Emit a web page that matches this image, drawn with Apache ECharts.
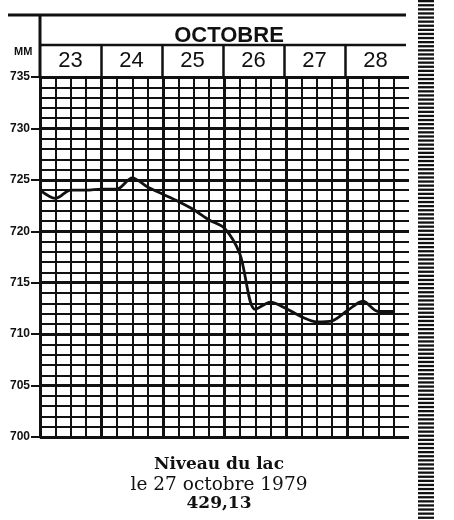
<!DOCTYPE html>
<html>
<head>
<meta charset="utf-8">
<script src="https://cdn.jsdelivr.net/npm/echarts@6/dist/echarts.min.js"></script>
<style>
  html, body { margin: 0; padding: 0; background: #fff; }
</style>
</head>
<body>
<div id="chart" style="width: 454px; height: 520px"></div>
<script>
// niveau du lac, relevé toutes les 6 heures (23 -> 28 octobre)
const days = ['23', '24', '25', '26', '27', '28']
const steps = [0, 1, 2, 3, 4, 5, 6, 7, 8, 9, 10, 11, 12, 13, 14, 15, 16, 17, 18, 19, 20, 21, 22, 23]
const levels = [724, 723.2, 724, 724, 724.1, 724.1, 725.2, 724.3, 723.6, 722.9, 722.1, 721.1,
  720.3, 717.8, 712.4, 713.1, 712.5, 711.7, 711.2, 711.3, 712.3, 713.2, 712.2, 712.2]

const ink = '#111'
const chart = echarts.init(document.getElementById('chart'))

// bande hachurée à droite (bord de colonne du journal)
const stripes = []
for (let y = 0; y < 520; y += 4.1) {
  stripes.push({ type: 'rect', shape: { x: 418, y: y, width: 16, height: 2.3 }, style: { fill: ink } })
}

const option = {
  animation: false,
  title: [
    { text: 'OCTOBRE', left: 224, top: 20, textAlign: 'center',
      textStyle: { fontFamily: 'Liberation Sans', fontWeight: 'bold', fontSize: 22, color: ink } },
    { text: 'MM', left: 9, top: 41,
      textStyle: { fontFamily: 'Liberation Sans', fontWeight: 'bold', fontSize: 11, color: ink } },
    { text: 'Niveau du lac', left: 214, top: 451, textAlign: 'center',
      textStyle: { fontFamily: 'DejaVu Serif', fontWeight: 'bold', fontSize: 17, color: ink } },
    { text: 'le 27 octobre 1979', left: 214, top: 471, textAlign: 'center',
      textStyle: { fontFamily: 'DejaVu Serif', fontWeight: 'normal', fontSize: 18.5, color: ink } },
    { text: '429,13', left: 214, top: 490, textAlign: 'center',
      textStyle: { fontFamily: 'DejaVu Serif', fontWeight: 'bold', fontSize: 17, color: ink } }
  ],
  graphic: [
    { type: 'line', shape: { x1: 8, y1: 15, x2: 406, y2: 15 }, style: { stroke: ink, lineWidth: 3 } },
    { type: 'line', shape: { x1: 40, y1: 45, x2: 406, y2: 45 }, style: { stroke: ink, lineWidth: 2.5 } },
    { type: 'line', shape: { x1: 40, y1: 15, x2: 40, y2: 78 }, style: { stroke: ink, lineWidth: 3 } },
    { type: 'group', children: stripes }
  ],
  grid: [
    { left: 40, top: 77, width: 369, height: 360 },
    { left: 40, top: 45, width: 366, height: 32 }
  ],
  xAxis: [
    {
      type: 'value', gridIndex: 0, min: 0, max: 24, interval: 1,
      axisLine: { show: false }, axisTick: { show: false }, axisLabel: { show: false },
      splitLine: { show: true, showMaxLine: false, lineStyle: { color: ink, width: 2 } }
    },
    {
      type: 'value', gridIndex: 0, min: 0, max: 24, interval: 4,
      axisLine: { show: false }, axisTick: { show: false }, axisLabel: { show: false },
      splitLine: { show: true, showMinLine: false, showMaxLine: false, lineStyle: { color: ink, width: 3 } }
    },
    {
      type: 'category', gridIndex: 1, data: days, boundaryGap: true,
      axisLine: { show: false }, axisTick: { show: false },
      axisLabel: { inside: true, margin: 5, fontFamily: 'Liberation Sans', fontSize: 22, color: ink },
      splitLine: { show: true, showMinLine: false, showMaxLine: false, lineStyle: { color: ink, width: 2.5 } }
    }
  ],
  yAxis: [
    {
      type: 'value', gridIndex: 0, min: 700, max: 735, interval: 5,
      axisLine: { show: true, lineStyle: { color: ink, width: 3 } },
      axisTick: { show: true, length: 9, lineStyle: { color: ink, width: 2 } },
      axisLabel: { margin: 10, fontFamily: 'Liberation Sans', fontWeight: 'bold', fontSize: 12, color: ink,
        padding: [0, 0, 3, 0] },
      splitLine: { show: true, lineStyle: { color: ink, width: 3 } },
      minorTick: { show: false, splitNumber: 5 },
      minorSplitLine: { show: true, lineStyle: { color: ink, width: 2 } }
    },
    {
      type: 'value', gridIndex: 1, show: false
    }
  ],
  series: [
    {
      type: 'line',
      xAxisIndex: 0,
      yAxisIndex: 0,
      data: steps.map((s, i) => [s, levels[i]]),
      symbol: 'none',
      smooth: 0.3,
      lineStyle: { color: ink, width: 2.8 },
      z: 5
    }
  ]
}

chart.setOption(option)
</script>
</body>
</html>
